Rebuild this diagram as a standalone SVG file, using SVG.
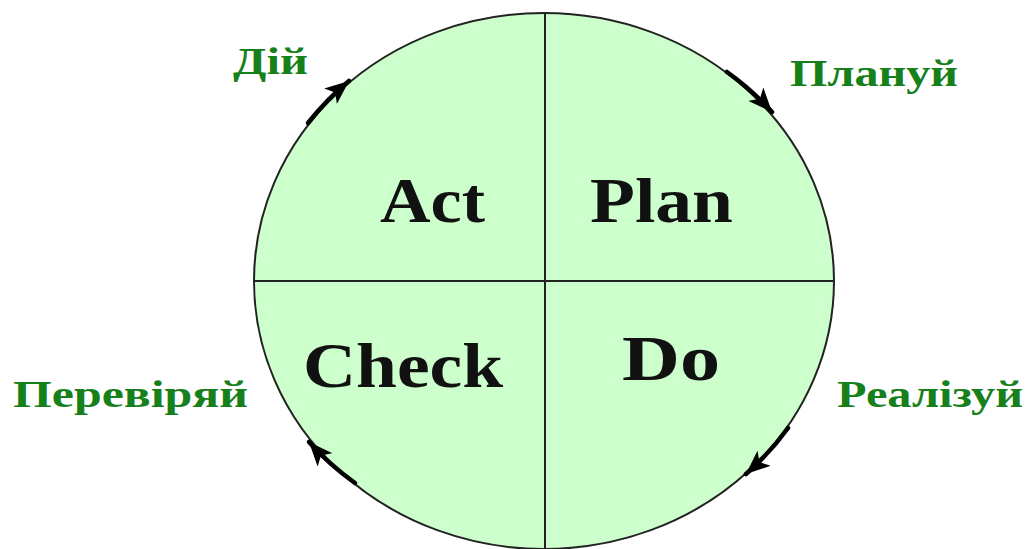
<svg xmlns="http://www.w3.org/2000/svg" width="1028" height="549" viewBox="0 0 1028 549">
  <style>
    .quad { font-family: "Liberation Serif", "Times New Roman", serif; font-weight: bold; font-size: 64px; fill: #111; }
    .step { font-family: "Liberation Serif", "Times New Roman", serif; font-weight: bold; font-size: 38px; fill: #16801a; }
    .cycle { fill: none; stroke: #000; stroke-width: 4.5; stroke-linecap: round; marker-end: url(#head); }
  </style>
  <defs>
    <marker id="head" markerWidth="26" markerHeight="20" refX="24" refY="10" orient="auto" markerUnits="userSpaceOnUse">
      <path d="M0,0 L24,10 L0,20 L6,10 Z" fill="#000"/>
    </marker>
  </defs>
  <rect width="1028" height="549" fill="#ffffff"/>

  <!-- PDCA wheel -->
  <g id="wheel">
    <ellipse cx="544" cy="281" rx="290" ry="268" fill="#ccffcc" stroke="#222" stroke-width="2"/>
    <line x1="545" y1="13" x2="545" y2="549" stroke="#222" stroke-width="2"/>
    <line x1="254" y1="281" x2="834" y2="281" stroke="#222" stroke-width="2"/>
  </g>

  <g id="act"><text class="quad" x="380" y="222" textLength="105" lengthAdjust="spacingAndGlyphs">Act</text></g>
  <g id="plan"><text class="quad" x="590" y="222" textLength="143" lengthAdjust="spacingAndGlyphs">Plan</text></g>
  <g id="check"><text class="quad" x="303" y="387" textLength="200" lengthAdjust="spacingAndGlyphs">Check</text></g>
  <g id="do"><text class="quad" x="622" y="380" textLength="98" lengthAdjust="spacingAndGlyphs">Do</text></g>

  <!-- step labels around the wheel -->
  <g id="label-act"><text class="step" x="233" y="74" textLength="75" lengthAdjust="spacingAndGlyphs">Дій</text></g>
  <g id="label-plan"><text class="step" x="790" y="86" textLength="168" lengthAdjust="spacingAndGlyphs">Плануй</text></g>
  <g id="label-do"><text class="step" x="837" y="407" textLength="186" lengthAdjust="spacingAndGlyphs">Реалізуй</text></g>
  <g id="label-check"><text class="step" x="13" y="407" textLength="235" lengthAdjust="spacingAndGlyphs">Перевіряй</text></g>

  <!-- direction arrows along the rim -->
  <g id="connectors">
    <path class="cycle" d="M727,72 A290,268 0 0 1 772,112"/>
    <path class="cycle" d="M788,428 A290,268 0 0 1 746,474"/>
    <path class="cycle" d="M355,483 A290,268 0 0 1 309,442"/>
    <path class="cycle" d="M308,123 A290,268 0 0 1 349,81"/>
  </g>
</svg>
